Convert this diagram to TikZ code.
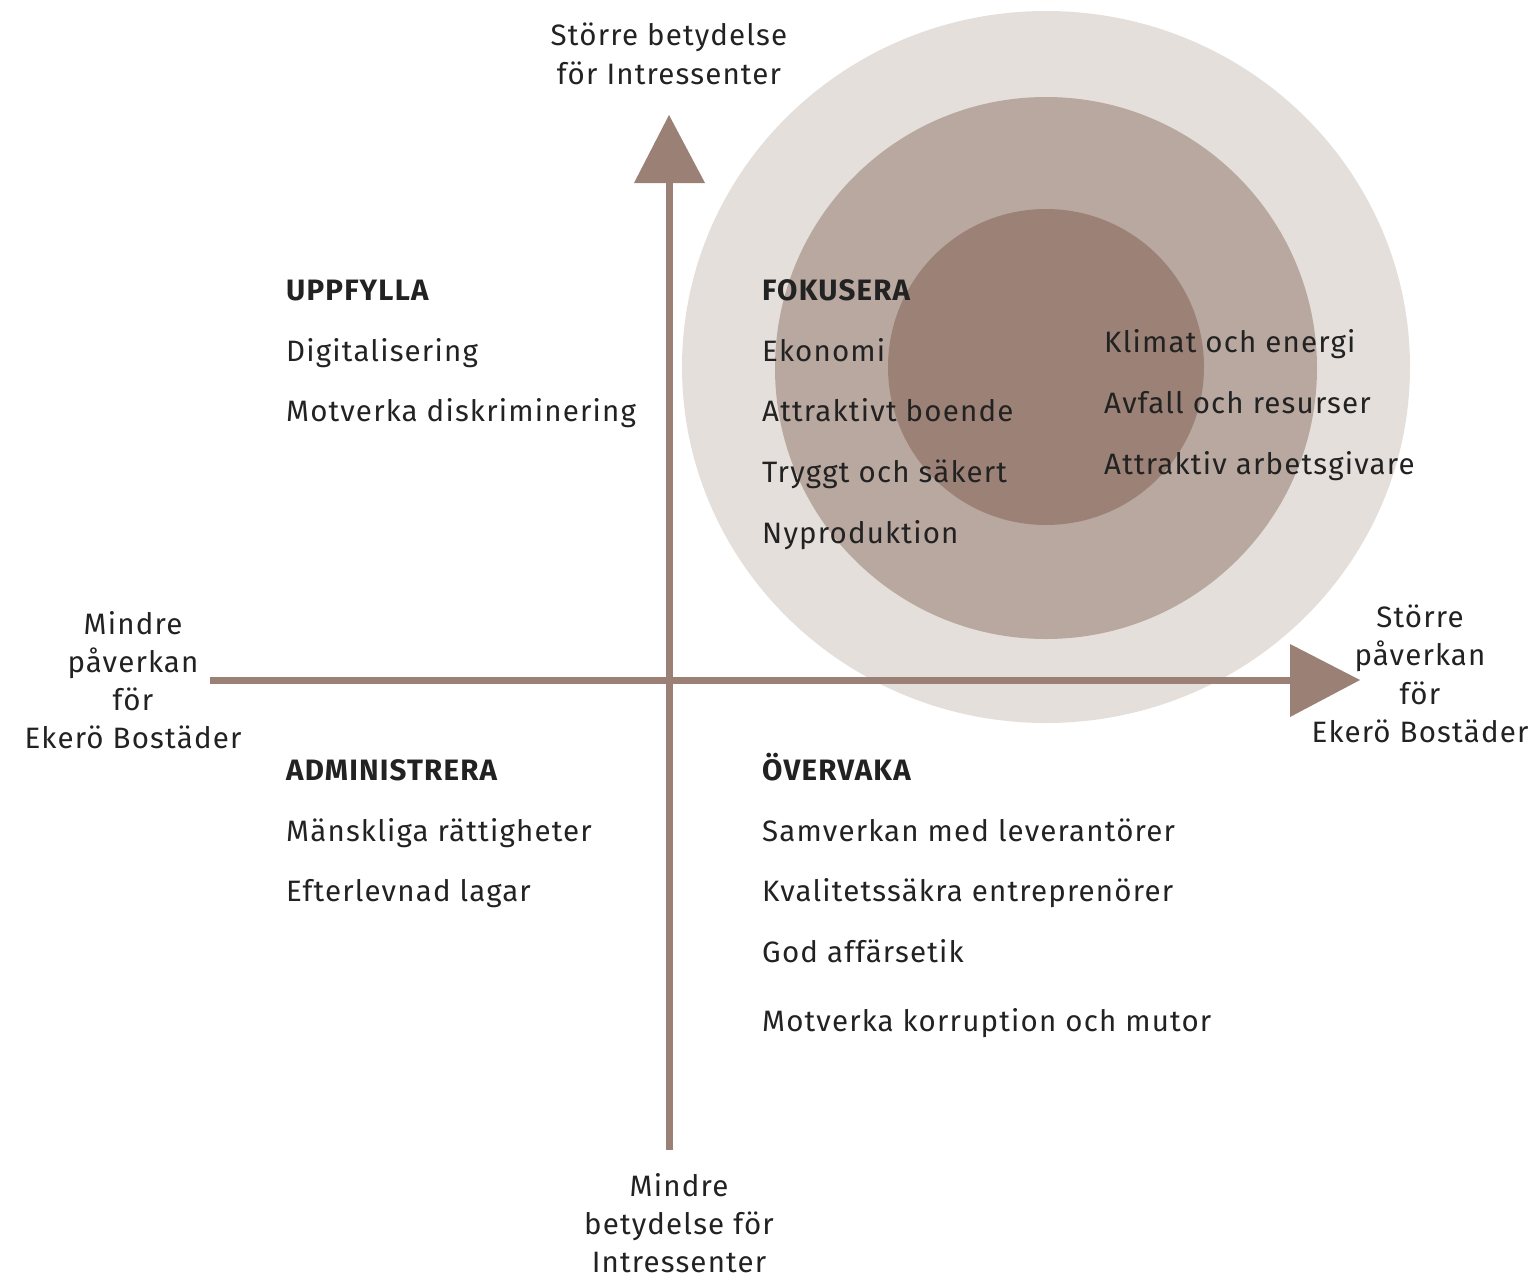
\documentclass[tikz,border=0pt]{standalone}
\usepackage{fontspec}
\setmainfont{Fira Sans}[LetterSpace=4]
\definecolor{ringA}{HTML}{E5DFDB}
\definecolor{ringB}{HTML}{B8A89F}
\definecolor{ringC}{HTML}{9C8276}
\definecolor{axisc}{HTML}{9A8075}
\definecolor{txt}{HTML}{222222}
\begin{document}
\begin{tikzpicture}[x=1pt,y=-1pt,
  lbl/.style={anchor=base west,inner sep=0pt,text=txt,font=\fontsize{29.5}{34}\selectfont},
  head/.style={lbl,font=\fontsize{29.5}{34}\selectfont\bfseries},
  axl/.style={anchor=base,inner sep=0pt,text=txt,font=\fontsize{29.5}{34}\selectfont},
  axisline/.style={draw=axisc,line width=7pt},
  tip/.style={fill=axisc}]
\useasboundingbox (0,0) rectangle (1535,1277);
% rings
\fill[ringA] (1046,367) ellipse[x radius=364,y radius=356];
\fill[ringB] (1046,368) circle[radius=271];
\fill[ringC] (1046,367) circle[radius=158];
% axes
\coordinate (vbot) at (669,1150);
\coordinate (vtop) at (669,180);
\coordinate (hl) at (210,680);
\coordinate (hr) at (1294,680);
\draw[axisline] (vbot) -- (vtop);
\draw[axisline] (hl) -- (hr);
\fill[tip] (634,183) -- (669,115) -- (705,183) -- cycle;
\fill[tip] (1290,644) -- (1360,680) -- (1290,717) -- cycle;
% axis labels
\node[axl] (t1) at (669,45) {Större betydelse};
\node[axl] (t2) at (669,84) {för Intressenter};
\node[axl] (l1) at (133,634) {Mindre};
\node[axl] (l2) at (133,672) {påverkan};
\node[axl] (l3) at (133,710) {för};
\node[axl] (l4) at (133,748) {Ekerö Bostäder};
\node[axl] (r1) at (1420,627) {Större};
\node[axl] (r2) at (1420,665) {påverkan};
\node[axl] (r3) at (1420,704) {för};
\node[axl] (r4) at (1420,742) {Ekerö Bostäder};
\node[axl] (b1) at (679,1196) {Mindre};
\node[axl] (b2) at (679,1234) {betydelse för};
\node[axl] (b3) at (679,1272) {Intressenter};
% quadrant UPPFYLLA
\node[head] (uh) at (286,300) {UPPFYLLA};
\node[lbl] (u1) at (286,361) {Digitalisering};
\node[lbl] (u2) at (286,421) {Motverka diskriminering};
% FOKUSERA
\node[head] (fh) at (762,300) {FOKUSERA};
\node[lbl] (f1) at (762,361) {Ekonomi};
\node[lbl] (f2) at (762,421) {Attraktivt boende};
\node[lbl] (f3) at (762,482) {Tryggt och säkert};
\node[lbl] (f4) at (762,543) {Nyproduktion};
\node[lbl] (f5) at (1104,352) {Klimat och energi};
\node[lbl] (f6) at (1104,413) {Avfall och resurser};
\node[lbl] (f7) at (1104,474) {Attraktiv arbetsgivare};
% ADMINISTRERA
\node[head] (ah) at (286,780) {ADMINISTRERA};
\node[lbl] (a1) at (286,841) {Mänskliga rättigheter};
\node[lbl] (a2) at (286,901) {Efterlevnad lagar};
% ÖVERVAKA
\node[head] (oh) at (762,780) {ÖVERVAKA};
\node[lbl] (o1) at (762,841) {Samverkan med leverantörer};
\node[lbl] (o2) at (762,901) {Kvalitetssäkra entreprenörer};
\node[lbl] (o3) at (762,962) {God affärsetik};
\node[lbl] (o4) at (762,1031) {Motverka korruption och mutor};
\end{tikzpicture}
\end{document}
